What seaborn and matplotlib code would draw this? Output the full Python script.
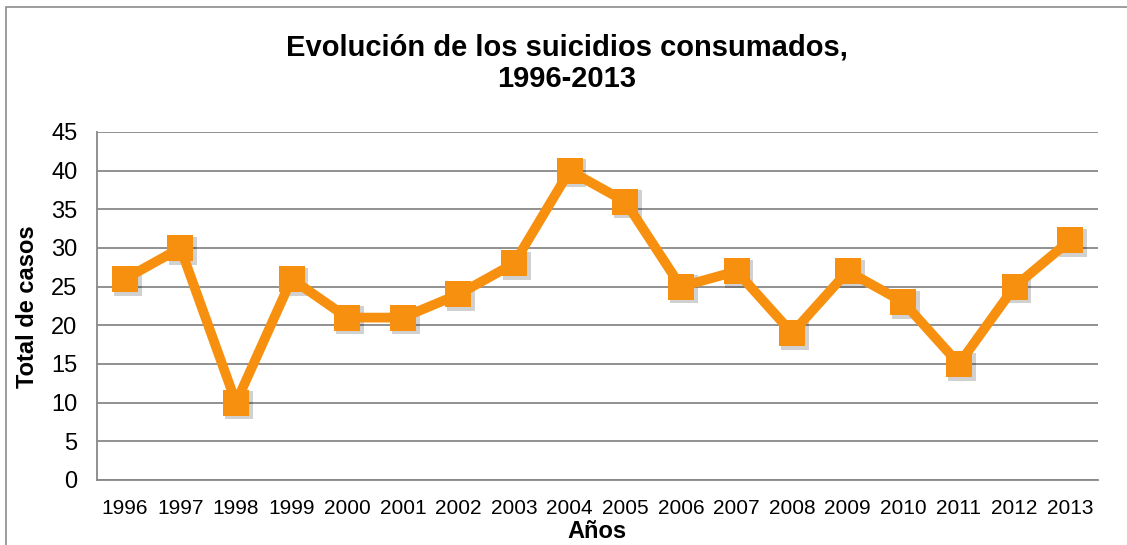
import matplotlib
matplotlib.use("Agg")
import matplotlib.pyplot as plt
import matplotlib.transforms as mtransforms
import seaborn as sns
import pandas as pd

years = ["1996", "1997", "1998", "1999", "2000", "2001", "2002", "2003", "2004",
         "2005", "2006", "2007", "2008", "2009", "2010", "2011", "2012", "2013"]
cases = [26, 30, 10, 26, 21, 21, 24, 28, 40, 36, 25, 27, 19, 27, 23, 15, 25, 31]
yticks = [0, 5, 10, 15, 20, 25, 30, 35, 40, 45]

sns.set_theme(style="white")
plt.rcParams['font.family'] = ['Liberation Sans', 'DejaVu Sans']
plt.rcParams['text.color'] = 'black'
plt.rcParams['xtick.labelcolor'] = 'black'
plt.rcParams['ytick.labelcolor'] = 'black'

df = pd.DataFrame({"x": list(range(len(years))), "y": cases})

fig = plt.figure(figsize=(11.27, 5.45), dpi=100)
W, H = 1127, 545
ax = fig.add_axes([97 / W, 1 - 480 / H, (1098 - 97) / W, (480 - 132) / H])

orange = "#F7900E"
# soft marker shadow
shadow_tr = ax.transData + mtransforms.ScaledTranslation(2 / 72, -2 / 72, fig.dpi_scale_trans)
ax.plot(df["x"], df["y"], linestyle="none", marker="s", markersize=20,
        markeredgewidth=0, color="black", alpha=0.18, transform=shadow_tr, zorder=1.5)
sns.lineplot(data=df, x="x", y="y", ax=ax, color=orange, linewidth=7,
             marker="s", markersize=19, markeredgewidth=0, zorder=2)

ax.set_xlim(-0.5, len(years) - 0.5)
ax.set_ylim(0, 45)
ax.set_yticks(yticks)
ax.set_yticklabels([str(v) for v in yticks], fontsize=17)
ax.set_xticks([i for i in range(len(years))])
ax.set_xticklabels(years, fontsize=15)
ax.tick_params(axis="x", length=0, pad=14)
ax.set_xticks([i - 0.5 for i in range(len(years) + 1)], minor=True)
ax.tick_params(axis="x", which="minor", length=5, width=1.2, color="#888888", direction="out")
ax.tick_params(axis="y", length=5, width=1.2, color="#888888", direction="out", pad=9)

ax.grid(axis="y", color="#888888", linewidth=1.3)
ax.grid(axis="x", visible=False)
ax.set_axisbelow(True)
for s in ["top", "right"]:
    ax.spines[s].set_visible(False)
for s in ["left", "bottom"]:
    ax.spines[s].set_color("#888888")
    ax.spines[s].set_linewidth(1.3)

ax.set_xlabel("")
ax.set_ylabel("")
fig.text(597 / W, 1 - 532 / H, "Años", ha="center", va="center", fontsize=17, fontweight="bold")
fig.text(28 / W, 1 - 307 / H, "Total de casos", ha="center", va="center", rotation=90,
         fontsize=17, fontweight="bold")
fig.text(567 / W, 1 - 63 / H, "Evolución de los suicidios consumados,\n1996-2013",
         ha="center", va="center", fontsize=21, fontweight="bold", linespacing=1.15)

frame = plt.Rectangle((6 / W, -0.1), 1.2, 1 - 7 / H + 0.1, transform=fig.transFigure,
                      fill=False, edgecolor="#8c8c8c", linewidth=1.2)
fig.patches.append(frame)

fig.savefig("out.png", dpi=100, facecolor="white")
